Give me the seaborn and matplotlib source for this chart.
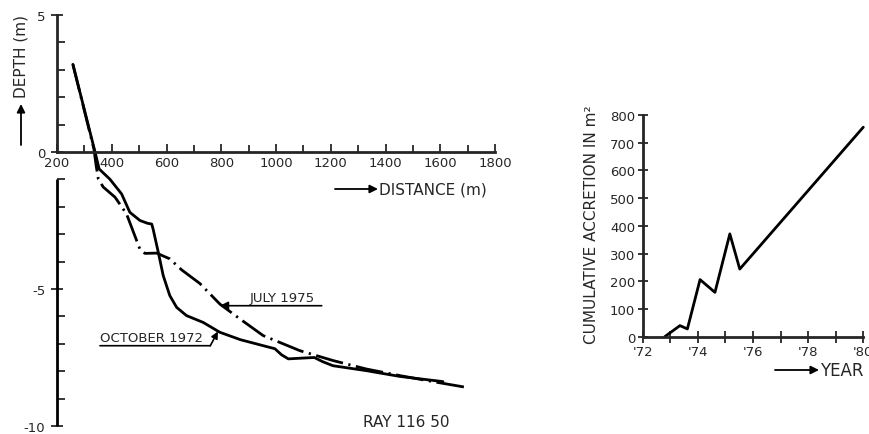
import matplotlib
matplotlib.use("Agg")
import matplotlib.pyplot as plt
from matplotlib.ticker import MultipleLocator, FixedLocator, FixedFormatter
import pandas as pd
import seaborn as sns

# profile along ray 116 50 (distance in m, depth in m)
oct72_dist = [258, 339, 354, 393, 436, 466, 503, 530, 546, 551, 570, 588, 612, 637,
              673, 734, 795, 870, 965, 996, 1020, 1045, 1100, 1140, 1170, 1208, 1330,
              1452, 1610]
oct72_depth = [3.2, 0.0, -0.62, -0.99, -1.53, -2.2, -2.5, -2.6, -2.63, -2.81, -3.66,
               -4.51, -5.24, -5.67, -5.97, -6.22, -6.58, -6.85, -7.1, -7.18, -7.4,
               -7.55, -7.52, -7.5, -7.65, -7.8, -7.98, -8.19, -8.38]

jul75_dist = [258, 335, 343, 351, 369, 412, 454, 503, 521, 564, 612, 655, 722, 795,
              868, 953, 1087, 1208, 1330, 1452, 1573, 1695]
jul75_depth = [3.2, 0.1, -0.5, -0.99, -1.28, -1.65, -2.26, -3.55, -3.7, -3.69, -3.9,
               -4.3, -4.8, -5.55, -6.09, -6.7, -7.25, -7.61, -7.92, -8.16, -8.38, -8.59]

# cumulative accretion
years = [72.8, 73.35, 73.62, 74.08, 74.62, 75.16, 75.52, 80.0]
accretion = [0, 40, 28, 206, 160, 371, 244, 756]

year_ticks = [72, 74, 76, 78, 80]
year_labels = ["'72", "'74", "'76", "'78", "'80"]
dist_ticks = [200, 400, 600, 800, 1000, 1200, 1400, 1600, 1800]
depth_ticks = [-10, -5, 0, 5]

W, H = 870, 435


def fpos(x, y):
    # figure pixel -> figure fraction
    return x / W, 1 - y / H


sns.set_style("ticks")
plt.rcParams["font.family"] = ["DejaVu Sans"]
plt.rcParams["axes.unicode_minus"] = False

fig = plt.figure(figsize=(W / 100, H / 100), dpi=100)
ax1 = fig.add_axes([57 / W, 1 - 427 / H, 438 / W, 411 / H])
ax2 = fig.add_axes([642.7 / W, 1 - 337.7 / H, 220.6 / W, 221.7 / H])

prof = pd.concat([
    pd.DataFrame({"distance": oct72_dist, "depth": oct72_depth, "survey": "OCTOBER 1972"}),
    pd.DataFrame({"distance": jul75_dist, "depth": jul75_depth, "survey": "JULY 1975"}),
])

sns.lineplot(data=prof[prof.survey == "OCTOBER 1972"], x="distance", y="depth", ax=ax1,
             color="black", lw=2, sort=False, estimator=None)
sns.lineplot(data=prof[prof.survey == "JULY 1975"], x="distance", y="depth", ax=ax1,
             color="black", lw=2, sort=False, estimator=None,
             linestyle=(0, (10, 2, 0.8, 2)))

ax1.set_xlim(200, 1800)
ax1.set_ylim(-10, 5)
ax1.set_xlabel("")
ax1.set_ylabel("")
for s in ["top", "right"]:
    ax1.spines[s].set_visible(False)
ax1.spines["bottom"].set_position(("data", 0))
ax1.spines["left"].set_bounds(0, 5)
ax1.vlines(ax1.get_xlim()[0], ax1.get_ylim()[0], -1, color="black", lw=2, clip_on=False)
for s in ["bottom", "left"]:
    ax1.spines[s].set_linewidth(2)

ax1.xaxis.set_major_locator(FixedLocator(dist_ticks))
ax1.xaxis.set_minor_locator(MultipleLocator(100))
ax1.yaxis.set_major_locator(FixedLocator(depth_ticks))
ax1.yaxis.set_minor_locator(MultipleLocator(1))
ax1.tick_params(axis="x", which="both", direction="in", length=6, width=1.3,
                labelsize=9.5, pad=3)
ax1.tick_params(axis="x", which="minor", length=5)
ax1.tick_params(axis="y", which="major", direction="inout", length=9, width=1.3,
                labelsize=9.5, pad=4)
ax1.tick_params(axis="y", which="minor", direction="in", length=6, width=1.3)

ax1.annotate("", xy=(795, -5.61), xytext=(1167, -5.61),
             arrowprops=dict(arrowstyle="-|>", color="black", lw=1.2,
                             mutation_scale=12, shrinkA=0, shrinkB=0))
ax1.text(904, -5.55, "JULY 1975", fontsize=9.5, ha="left", va="bottom")
ax1.annotate("", xy=(760, -7.07), xytext=(357, -7.07),
             arrowprops=dict(arrowstyle="-", color="black", lw=1.2,
                             shrinkA=0, shrinkB=0))
ax1.annotate("", xy=(788, -6.55), xytext=(760, -7.07),
             arrowprops=dict(arrowstyle="-|>", color="black", lw=1.2,
                             mutation_scale=10, shrinkA=0, shrinkB=0))
ax1.text(357, -7.0, "OCTOBER 1972", fontsize=9.5, ha="left", va="bottom")
ax1.text(1474, -9.82, "RAY 116 50", fontsize=11, ha="center", va="center")

# axis titles with arrows
fig.text(*fpos(21, 57), "DEPTH (m)", rotation=90, fontsize=11, ha="center", va="center")
ax1.annotate("", xy=fpos(21, 105), xytext=fpos(21, 146), xycoords="figure fraction",
             textcoords="figure fraction",
             arrowprops=dict(arrowstyle="-|>", color="black", lw=1.3,
                             mutation_scale=12, shrinkA=0, shrinkB=0))
fig.text(*fpos(379, 190), "DISTANCE (m)", fontsize=11, ha="left", va="center")
ax1.annotate("", xy=fpos(378, 190), xytext=fpos(335, 190), xycoords="figure fraction",
             textcoords="figure fraction",
             arrowprops=dict(arrowstyle="-|>", color="black", lw=1.3,
                             mutation_scale=12, shrinkA=0, shrinkB=0))

# right panel
acc = pd.DataFrame({"year": years, "accretion": accretion})
sns.lineplot(data=acc, x="year", y="accretion", ax=ax2, color="black", lw=2,
             sort=False, estimator=None, clip_on=False)
ax2.set_xlim(72, 80)
ax2.set_ylim(0, 800)
ax2.set_xlabel("")
ax2.set_ylabel("")
for s in ["top", "right"]:
    ax2.spines[s].set_visible(False)
for s in ["bottom", "left"]:
    ax2.spines[s].set_linewidth(2)
ax2.xaxis.set_major_locator(FixedLocator(year_ticks))
ax2.xaxis.set_major_formatter(FixedFormatter(year_labels))
ax2.xaxis.set_minor_locator(MultipleLocator(1))
ax2.yaxis.set_major_locator(MultipleLocator(100))
ax2.tick_params(axis="both", which="both", direction="inout", length=8, width=1.3,
                labelsize=9.5, pad=2)
ax2.tick_params(axis="y", which="major", length=7)

fig.text(*fpos(591, 225), "CUMULATIVE ACCRETION IN m²", rotation=90, fontsize=11,
         ha="center", va="center")
fig.text(*fpos(820, 371), "YEAR", fontsize=12, ha="left", va="center")
ax2.annotate("", xy=fpos(819, 371), xytext=fpos(775, 371), xycoords="figure fraction",
             textcoords="figure fraction",
             arrowprops=dict(arrowstyle="-|>", color="black", lw=1.3,
                             mutation_scale=12, shrinkA=0, shrinkB=0))

fig.savefig("out.png", dpi=100)
